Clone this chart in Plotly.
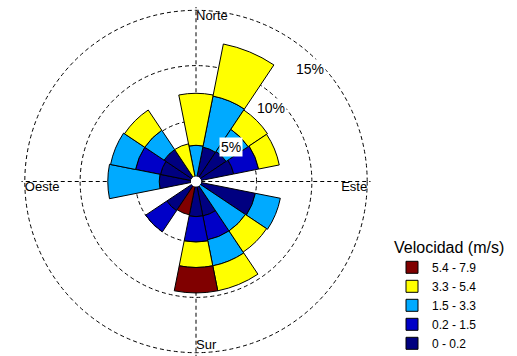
import math
import plotly.graph_objects as go

# Wind rose: frequency (%) per direction, stacked by speed class
directions = ["N", "NNE", "NE", "ENE", "E", "ESE", "SE", "SSE",
              "S", "SSW", "SW", "WSW", "W", "WNW", "NW", "NNW"]
bearings = [i * 22.5 for i in range(16)]

speed_classes = ["0 - 0.2", "0.2 - 1.5", "1.5 - 3.3", "3.3 - 5.4", "5.4 - 7.9"]
class_colors = ["#000080", "#0000c8", "#00aaff", "#ffff00", "#800000"]

freq_0_02 = [0.0, 2.7, 2.8, 3.0, 0.0, 5.0, 0.0, 2.7, 2.7, 0.0, 2.7, 0.0, 2.85, 2.8, 3.0, 0.0]
freq_02_15 = [0.0, 0.0, 0.0, 2.3, 0.0, 0.0, 0.0, 2.2, 2.3, 0.0, 2.3, 0.0, 0.0, 2.3, 0.0, 0.0]
freq_15_33 = [2.8, 4.7, 2.4, 0.0, 0.0, 2.3, 4.9, 2.4, 0.0, 0.0, 0.0, 0.0, 4.65, 2.3, 2.1, 0.0]
freq_33_54 = [4.7, 4.8, 2.1, 1.9, 0.0, 0.0, 2.3, 2.3, 2.3, 0.0, 0.0, 0.0, 0.0, 0.0, 2.2, 3.0]
freq_54_79 = [0.0, 0.0, 0.0, 0.0, 0.0, 0.0, 0.0, 0.0, 2.3, 2.6, 0.0, 0.0, 0.0, 0.0, 0.0, 0.0]

ring_values = [5, 10, 15]
ring_labels = ["5%", "10%", "15%"]
compass_angles = [0, 90, 180, 270]
compass_labels = ["Norte", "Este", "Sur", "Oeste"]

W, H = 517, 356
CX, CY, R = 196, 181.5, 174.5  # polar centre and domain radius in pixels
RMAX = 15.3
HOLE = 0.03
FONT = "Liberation Sans, Arial, sans-serif"

fig = go.Figure()

series = [freq_0_02, freq_02_15, freq_15_33, freq_33_54, freq_54_79]
for name, color, values in zip(speed_classes, class_colors, series):
    fig.add_trace(go.Barpolar(
        r=[v if v > 0 else None for v in values],
        theta=bearings,
        width=[22.5] * len(bearings),
        name=name,
        marker=dict(color=color, line=dict(color="black", width=1)),
        customdata=directions,
        hovertemplate="%{customdata}: %{r}%<extra>" + name + "</extra>",
    ))

# compass labels sit just inside the outer ring, beside the axis lines
fig.add_trace(go.Scatterpolar(
    r=[15] * 4,
    theta=compass_angles,
    mode="text",
    text=compass_labels,
    textposition=["bottom right", "bottom left", "top right", "bottom right"],
    textfont=dict(family=FONT, size=13, color="black"),
    showlegend=False,
    hoverinfo="skip",
))


def to_paper(r, bearing):
    rr = R * (HOLE + (1 - HOLE) * r / RMAX)
    px = CX + rr * math.sin(math.radians(bearing))
    py = CY - rr * math.cos(math.radians(bearing))
    return px / W, 1 - py / H


# ring percentages, boxed in white, just inside each ring on the NE diagonal
annotations = []
for val, lab in zip(ring_values, ring_labels):
    x, y = to_paper(val - 1.0, 45.5)
    annotations.append(dict(
        x=x, y=y, xref="paper", yref="paper", text=lab, showarrow=False,
        font=dict(family=FONT, size=14, color="black"),
        bgcolor="white", borderpad=1, xanchor="center", yanchor="middle",
    ))

fig.update_layout(
    width=W, height=H,
    margin=dict(l=0, r=0, t=0, b=0, autoexpand=False),
    paper_bgcolor="white",
    font=dict(family=FONT, color="black"),
    annotations=annotations,
    polar=dict(
        domain=dict(x=[(CX - R) / W, (CX + R) / W],
                    y=[(H - CY - R) / H, (H - CY + R) / H]),
        bgcolor="white",
        hole=HOLE,
        barmode="stack",
        radialaxis=dict(range=[0, RMAX], tickmode="array", tickvals=ring_values,
                        showticklabels=False, ticks="", showline=False,
                        showgrid=True, gridcolor="black", gridwidth=1,
                        griddash="4px,3px"),
        angularaxis=dict(rotation=90, direction="clockwise",
                         tickmode="array", tickvals=compass_angles,
                         showticklabels=False, ticks="", showline=False,
                         showgrid=True, gridcolor="black", gridwidth=1,
                         griddash="4px,3px"),
    ),
    legend=dict(
        title=dict(text="Velocidad (m/s)", font=dict(family=FONT, size=16)),
        font=dict(family=FONT, size=12),
        traceorder="reversed",
        x=392 / W, y=1 - 232 / H, xanchor="left", yanchor="top",
        bgcolor="rgba(0,0,0,0)",
    ),
)

fig.write_html("out.html")
